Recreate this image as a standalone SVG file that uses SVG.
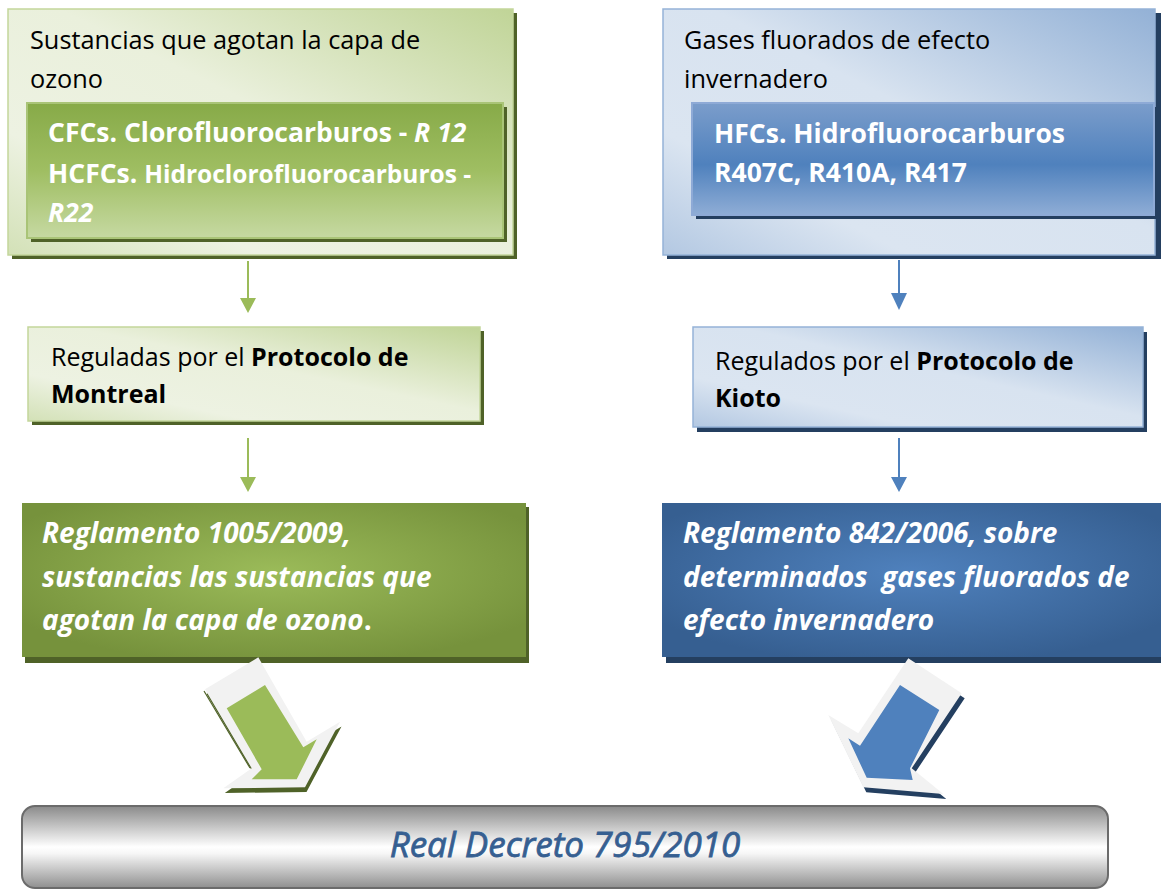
<svg xmlns="http://www.w3.org/2000/svg" width="1161" height="890" viewBox="0 0 1161 890">
<defs>
<linearGradient id="gLightG" x1="1" y1="0" x2="0" y2="1">
<stop offset="0" stop-color="#c0d497"/><stop offset="0.45" stop-color="#eaf0dc"/><stop offset="0.75" stop-color="#edf2e2"/><stop offset="1" stop-color="#d3e1b7"/>
</linearGradient>
<linearGradient id="gLightB" x1="1" y1="0" x2="0" y2="1">
<stop offset="0" stop-color="#93b1d6"/><stop offset="0.45" stop-color="#d8e3f0"/><stop offset="0.75" stop-color="#dbe5f1"/><stop offset="1" stop-color="#b3c8e2"/>
</linearGradient>
<linearGradient id="gInG" x1="0" y1="0" x2="0" y2="1">
<stop offset="0" stop-color="#87aa48"/><stop offset="0.5" stop-color="#9fbe62"/><stop offset="1" stop-color="#c6d9a2"/>
</linearGradient>
<linearGradient id="gInB" x1="0" y1="0" x2="0" y2="1">
<stop offset="0" stop-color="#7b9dcb"/><stop offset="0.55" stop-color="#4f81bd"/><stop offset="1" stop-color="#8fadd6"/>
</linearGradient>
<radialGradient id="gDarkG" cx="0.5" cy="0.45" r="0.6">
<stop offset="0" stop-color="#9bbb59"/><stop offset="1" stop-color="#76923c"/>
</radialGradient>
<radialGradient id="gDarkB" cx="0.5" cy="0.45" r="0.6">
<stop offset="0" stop-color="#4f81bd"/><stop offset="1" stop-color="#365f91"/>
</radialGradient>
<linearGradient id="gBar" x1="0" y1="0" x2="0" y2="1">
<stop offset="0" stop-color="#8a8a8a"/><stop offset="0.5" stop-color="#ffffff"/><stop offset="0.58" stop-color="#f6f6f6"/><stop offset="1" stop-color="#8f8f8f"/>
</linearGradient>
<style>
text{font-family:"Open Sans","Liberation Sans",sans-serif;white-space:pre}
.t{font-size:25.3px;fill:#000}
.m{font-size:25px;fill:#000}
.b{font-weight:bold}
.w{font-size:26.5px;fill:#fff;font-weight:bold}
.wi{font-size:28px;fill:#fff;font-weight:bold;font-style:italic}
.shG{fill:#4f6228}
.shB{fill:#243f60}
.lg{fill:url(#gLightG);stroke:#c3d69b;stroke-width:1.5}
.lb{fill:url(#gLightB);stroke:#95b3d7;stroke-width:1.5}
.cg{stroke:#9bbb59;stroke-width:2;fill:none}
.cb{stroke:#4f81bd;stroke-width:2;fill:none}
.hg{fill:#9bbb59}
.hb{fill:#4f81bd}
.gr{fill:#f2f2f2}
</style>
</defs>

<g id="n-sustancias">
<rect class="shG" x="12" y="13" width="505" height="246"/>
<rect class="lg" x="8" y="9" width="505" height="246"/>
<text class="t" x="30" y="49">Sustancias que agotan la capa de</text>
<text class="t" x="30" y="88">ozono</text>
<rect class="shG" x="31" y="107" width="476" height="135"/>
<rect x="27" y="103" width="476" height="135" fill="url(#gInG)" stroke="#a9c477" stroke-width="2"/>
<text class="w" x="48" y="142">CFCs. Clorofluorocarburos - <tspan font-style="italic">R 12</tspan></text>
<text class="w" x="48" y="183">HCFCs. <tspan font-size="24.5">Hidroclorofluorocarburos -</tspan></text>
<text class="w" x="48" y="222" font-style="italic">R22</text>
</g>

<g id="n-gases">
<rect class="shB" x="667" y="13" width="494" height="246"/>
<rect class="lb" x="663" y="9" width="492" height="246"/>
<text class="t" x="684" y="49">Gases fluorados de efecto</text>
<text class="t" x="684" y="88">invernadero</text>
<rect class="shB" x="696" y="107" width="462" height="112"/>
<rect x="692" y="103" width="462" height="112" fill="url(#gInB)" stroke="#8eaad6" stroke-width="2"/>
<text class="w" x="714" y="143">HFCs. Hidrofluorocarburos</text>
<text class="w" x="714" y="182">R407C, R410A, R417</text>
</g>

<g id="n-montreal">
<rect class="shG" x="32" y="331" width="452" height="94"/>
<rect class="lg" x="28" y="327" width="452" height="94"/>
<text class="m" x="51" y="366">Reguladas por el <tspan class="b">Protocolo de</tspan></text>
<text class="m b" x="51" y="403">Montreal</text>
</g>

<g id="n-kioto">
<rect class="shB" x="697" y="332" width="450" height="100"/>
<rect class="lb" x="693" y="327" width="450" height="100"/>
<text class="m" x="715" y="370">Regulados por el <tspan class="b">Protocolo de</tspan></text>
<text class="m b" x="715" y="407">Kioto</text>
</g>

<g id="n-reg1005">
<rect class="shG" x="25" y="507" width="504" height="156"/>
<rect x="22" y="503" width="504" height="154" fill="url(#gDarkG)"/>
<text class="wi" x="42" y="543">Reglamento 1005/2009,</text>
<text class="wi" x="42" y="587">sustancias las sustancias que</text>
<text class="wi" x="42" y="630">agotan la capa de ozono<tspan font-style="normal">.</tspan></text>
</g>

<g id="n-reg842">
<rect class="shB" x="666" y="507" width="500" height="156"/>
<rect x="662" y="503" width="500" height="154" fill="url(#gDarkB)"/>
<text class="wi" x="683" y="543">Reglamento 842/2006, sobre</text>
<text class="wi" x="683" y="587">determinados  gases fluorados de</text>
<text class="wi" x="683" y="630">efecto invernadero</text>
</g>

<g id="n-rd795">
<rect x="22" y="806" width="1086" height="82" rx="13" fill="url(#gBar)" stroke="#6b6b6b" stroke-width="2"/>
<text x="565" y="857" text-anchor="middle" font-size="35" font-style="italic" fill="#365f91" stroke="#365f91" stroke-width="0.8">Real Decreto 795/2010</text>
</g>

<g id="connectors">
<line class="cg" x1="248" y1="261" x2="248" y2="299"/>
<polygon class="hg" points="240,298 256,298 248,313"/>
<line class="cg" x1="248" y1="438" x2="248" y2="478"/>
<polygon class="hg" points="240,477 256,477 248,492"/>
<line class="cb" x1="899" y1="260" x2="899" y2="294"/>
<polygon class="hb" points="891,293 907,293 899,310"/>
<line class="cb" x1="899" y1="438" x2="899" y2="478"/>
<polygon class="hb" points="891,477 907,477 899,492"/>

<g id="bigArrowGreen">
<polygon class="shG" points="206.5,694 259.8,662 308.2,746.4 341.5,726.4 306.5,792 224.8,793 253.2,773"/>
<line x1="204" y1="691" x2="250" y2="768" stroke="#4f6228" stroke-width="1.2"/>
<polygon class="gr" points="205,689.3 258.3,657.3 306.7,741.7 340,721.7 305,787.3 223.3,788.3 251.7,768.3"/>
<polygon class="hg" points="226.7,708.3 265,685 303.3,747.3 316.7,739.3 296.7,779.3 251.7,779.3 261.7,769.3"/>
</g>
<g id="bigArrowBlue">
<polygon class="shB" points="911.3,663.3 964.7,698.3 914.7,773.3 946.3,799 866.3,792.3 831.3,720 861.3,738.3"/>
<polygon class="gr" points="908.3,658.3 961.7,693.3 911.7,768.3 943.3,794 863.3,787.3 828.3,715 858.3,733.3"/>
<polygon class="hb" points="900,685 939.3,710 910,768.3 912.7,780 866.7,777.7 848.3,738.3 860,745.7"/>
</g>
</g>
</svg>
